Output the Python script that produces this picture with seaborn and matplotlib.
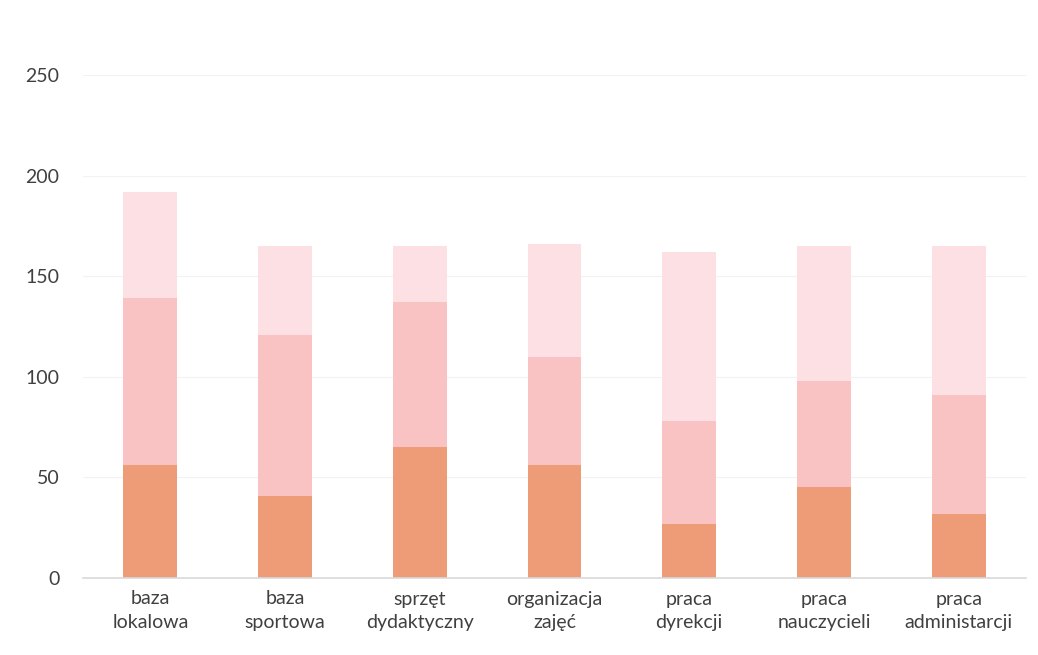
import pandas as pd
import numpy as np
import seaborn as sns
import matplotlib.pyplot as plt

categories = ['baza\nlokalowa', 'baza\nsportowa', 'sprzęt\ndydaktyczny', 'organizacja\nzajęć',
              'praca\ndyrekcji', 'praca\nnauczycieli', 'praca\nadministarcji']
# three stacked parts per bar, bottom to top
bottom_part = [56, 41, 65, 56, 27, 45, 32]
middle_part = [83, 80, 72, 54, 51, 53, 59]
top_part = [53, 44, 28, 56, 84, 67, 74]
yticks = [0, 50, 100, 150, 200, 250]

df = pd.DataFrame({'kategoria': categories, 'dol': bottom_part, 'srodek': middle_part, 'gora': top_part})
df['c1'] = df['dol']
df['c2'] = df['dol'] + df['srodek']
df['c3'] = df['c2'] + df['gora']

sns.set_style('white')
plt.rcParams['font.family'] = ['Lato', 'DejaVu Sans']

fig = plt.figure(figsize=(10.38, 6.55), dpi=100)
ax = fig.add_axes([83 / 1038, 77 / 655, 943 / 1038, 503 / 655])

# draw tallest first so shorter ones sit on top
sns.barplot(data=df, x='kategoria', y='c3', color='#fce0e4', width=0.4, saturation=1,
            linewidth=0, ax=ax, zorder=2)
sns.barplot(data=df, x='kategoria', y='c2', color='#f9c3c3', width=0.4, saturation=1,
            linewidth=0, ax=ax, zorder=2)
sns.barplot(data=df, x='kategoria', y='c1', color='#ee9c78', width=0.4, saturation=1,
            linewidth=0, ax=ax, zorder=2)

ax.set_ylim(0, 250)
ax.set_yticks(yticks)
ax.yaxis.grid(True, color='#f2f2f2', linewidth=0.8, zorder=0)
ax.set_axisbelow(True)
for s in ['top', 'right', 'left']:
    ax.spines[s].set_visible(False)
ax.spines['bottom'].set_color('#d9d9d9')
ax.spines['bottom'].set_linewidth(1.2)
ax.set_xlabel('')
ax.set_ylabel('')
ax.tick_params(axis='both', length=0, labelsize=14, labelcolor='#404040')
ax.tick_params(axis='y', pad=17)
ax.tick_params(axis='x', pad=9)
for lab in ax.get_xticklabels():
    lab.set_linespacing(1.45)

fig.savefig('out.png', dpi=100)
